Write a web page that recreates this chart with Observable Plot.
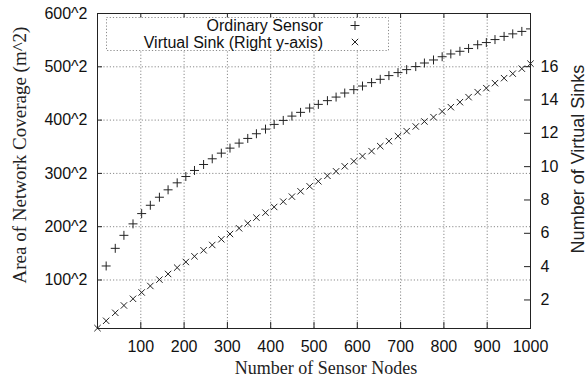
<!DOCTYPE html>
<html>
<head>
<meta charset="utf-8">
<script src="https://cdn.jsdelivr.net/npm/d3@7"></script>
<script src="https://cdn.jsdelivr.net/npm/@observablehq/plot@0.6"></script>
<style>
  html, body { margin: 0; padding: 0; background: #fff; }
  svg { display: block; }
</style>
</head>
<body>
<div id="chart"></div>
<script>
// Number of deployed sensor nodes (x)
const sensorNodes = [0, 20, 41, 61, 82, 102, 122, 143, 163, 184, 204, 224, 245, 265, 286, 306, 327, 347, 367, 388,
  408, 429, 449, 469, 490, 510, 531, 551, 571, 592, 612, 633, 653, 673, 694, 714, 735, 755, 776, 796,
  816, 837, 857, 878, 898, 918, 939, 959, 980, 1000];

// Coverage expressed as the side of the equivalent square (m); area = side^2
const coverageSide = [0, 126.3, 159.4, 183.8, 205.3, 224.6, 240.2, 255.3, 269.2, 282.3, 294.2, 305.5, 316.7, 327.4,
  338.0, 347.4, 356.8, 365.6, 374.4, 383.1, 391.9, 399.4, 407.5, 414.5, 422.6, 429.5, 436.5, 443.2, 450.8,
  457.1, 463.9, 470.3, 476.5, 483.5, 489.1, 494.7, 500.4, 507.1, 512.8, 518.9, 524.1, 529.1, 534.4, 541.4,
  545.5, 551.1, 557.0, 561.8, 566.4, 571.1];

// Number of virtual sinks (right axis)
const virtualSinks = [0.31, 0.75, 1.23, 1.67, 2.07, 2.45, 2.84, 3.22, 3.56, 3.94, 4.28, 4.62, 4.98, 5.30, 5.64,
  5.96, 6.30, 6.60, 6.94, 7.24, 7.58, 7.90, 8.20, 8.52, 8.82, 9.12, 9.45, 9.72, 10.02, 10.32, 10.63, 10.93,
  11.23, 11.53, 11.83, 12.13, 12.41, 12.71, 12.97, 13.31, 13.57, 13.87, 14.17, 14.47, 14.71, 15.01, 15.31,
  15.58, 15.88, 16.18];

// Tick values
const xTicks = [100, 200, 300, 400, 500, 600, 700, 800, 900, 1000];
const yTickSides = [100, 200, 300, 400, 500, 600];
const y2Ticks = [2, 4, 6, 8, 10, 12, 14, 16];

const seriesNames = ["Ordinary Sensor", "Virtual Sink (Right y-axis)"];
const titles = {
  x: "Number of Sensor Nodes",
  y: "Area of Network Coverage (m^2)",
  y2: "Number of Virtual Sinks"
};

const W = 587, H = 381;
const margin = {top: 13, right: 57, bottom: 53, left: 97};
const frameW = W - margin.left - margin.right;
const frameH = H - margin.top - margin.bottom;

// Right axis (sinks) expressed in the left axis' side units
const sinkToSide = d3.scaleLinear().domain([0, 19.19]).range([0, 600]);

const rows = sensorNodes.map((n, i) => ({
  n,
  area: coverageSide[i] * coverageSide[i],
  sinkArea: sinkToSide(virtualSinks[i]) ** 2
}));

const ink = "#222";
const gridStyle = {stroke: "#8a8a8a", strokeDasharray: "1.2,2", strokeWidth: 1};
const serif = "'Liberation Serif', 'Times New Roman', serif";
const centered = {textAnchor: "middle", lineAnchor: "middle", text: d => d, fill: ink};

const chart = Plot.plot({
  width: W,
  height: H,
  marginTop: margin.top,
  marginRight: margin.right,
  marginBottom: margin.bottom,
  marginLeft: margin.left,
  style: {fontFamily: "'Liberation Sans', Arial, sans-serif", fontSize: "16px", color: "#111", background: "#fff"},
  x: {domain: [0, 1000]},
  y: {type: "sqrt", domain: [81, 360000]},
  marks: [
    // grid
    Plot.ruleX(xTicks.filter(d => d < 1000), {x: d => d, ...gridStyle}),
    Plot.ruleY(yTickSides.filter(d => d < 600).map(s => s * s), {y: d => d, ...gridStyle}),
    // inward tick marks
    Plot.tickX(xTicks, {x: d => d, insetTop: frameH - 6, stroke: ink}),
    Plot.tickX(xTicks, {x: d => d, insetBottom: frameH - 5, stroke: ink}),
    Plot.tickY(yTickSides.map(s => s * s), {y: d => d, insetRight: frameW - 5, stroke: ink}),
    Plot.tickY(y2Ticks.map(v => sinkToSide(v) ** 2), {y: d => d, insetLeft: frameW - 6, stroke: ink}),
    // axes labels
    Plot.axisX({ticks: xTicks, tickSize: 0, tickPadding: 12, label: null, tickFormat: d => String(d)}),
    Plot.axisY({ticks: yTickSides.map(s => s * s), tickSize: 0, tickPadding: 10, label: null,
      tickFormat: d => `${Math.round(Math.sqrt(d))}^2`}),
    Plot.axisY({anchor: "right", ticks: y2Ticks.map(v => sinkToSide(v) ** 2), tickSize: 0, tickPadding: 10, label: null,
      tickFormat: d => String(Math.round(sinkToSide.invert(Math.sqrt(d))))}),
    // data
    Plot.dot(rows, {x: "n", y: "area", symbol: "plus", r: 3, stroke: ink, strokeWidth: 1, clip: true}),
    Plot.dot(rows, {x: "n", y: "sinkArea", symbol: "times", r: 3, stroke: ink, strokeWidth: 1}),
    Plot.frame({stroke: ink, strokeWidth: 1}),
    // titles
    Plot.text([titles.x], {frameAnchor: "bottom", ...centered, dx: 12, dy: 40,
      fontFamily: serif, fontSize: 18}),
    Plot.text([titles.y], {frameAnchor: "left", ...centered, rotate: -90, dx: -78, dy: -16,
      fontFamily: serif, fontSize: 19}),
    Plot.text([titles.y2], {frameAnchor: "right", ...centered, rotate: -90, dx: 48, dy: -12,
      fontSize: 18})
  ]
});

// Legend box in the upper-left of the frame
const svg = d3.select(chart);
const lg = svg.append("g").attr("class", "legend");
lg.append("rect")
  .attr("x", 106.5).attr("y", 17.5).attr("width", 282).attr("height", 33)
  .attr("fill", "#fff").attr("stroke", "#8a8a8a").attr("stroke-dasharray", "1.2,2");
const legendSymbols = [d3.symbolPlus, d3.symbolTimes];
seriesNames.forEach((name, i) => {
  const cy = 25.5 + i * 16.5;
  lg.append("text")
    .attr("x", 323).attr("y", cy).attr("dy", "0.35em")
    .attr("text-anchor", "end")
    .attr("fill", "#111")
    .style("font", "16px 'Liberation Sans', Arial, sans-serif")
    .text(name);
  lg.append("path")
    .attr("transform", `translate(355,${cy})`)
    .attr("d", d3.symbol(legendSymbols[i], Math.PI * 9)())
    .attr("fill", "none").attr("stroke", ink).attr("stroke-width", 1);
});

document.getElementById("chart").appendChild(chart);
</script>
</body>
</html>
